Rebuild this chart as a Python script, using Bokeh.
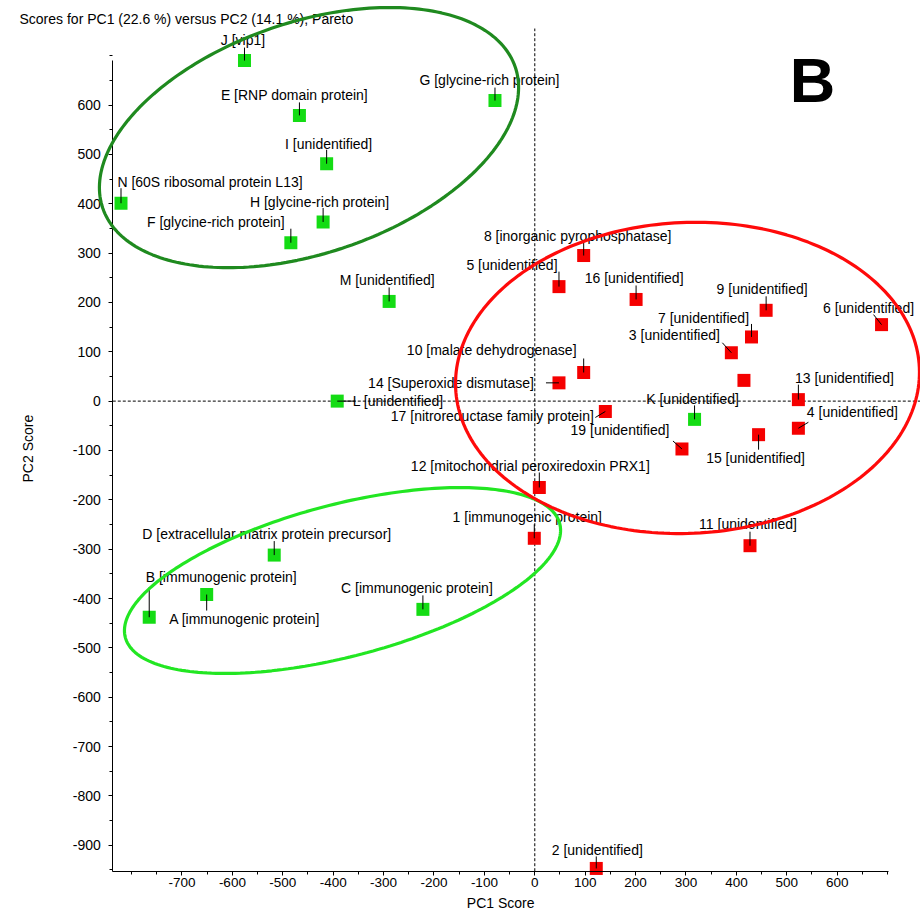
import math
from bokeh.plotting import figure
from bokeh.models import Range1d, FixedTicker, PolyAnnotation, ColumnDataSource
from bokeh.core.properties import value
from bokeh.embed import file_html
from bokeh.resources import INLINE

# ---------------- data ----------------
green_ids = ["J", "E", "G", "I", "N", "H", "F", "M", "L", "K", "D", "A", "B", "C"]
green_names = ["vip1", "RNP domain protein", "glycine-rich protein", "unidentified",
               "60S ribosomal protein L13", "glycine-rich protein", "glycine-rich protein",
               "unidentified", "unidentified", "unidentified",
               "extracellular matrix protein precursor", "immunogenic protein",
               "immunogenic protein", "immunogenic protein"]
green_pc1 = [-576, -467, -79, -413, -821, -420, -484, -289, -392, 317, -517, -651, -765, -222]
green_pc2 = [690, 579, 609, 481, 401, 363, 321, 202, 0, -37, -312, -392, -438, -422]

red_ids = ["8", "5", "16", "9", "6", "7", "3", "18", "10", "14", "13", "17", "4", "15",
           "19", "12", "1", "11", "2"]
red_names = ["inorganic pyrophosphatase", "unidentified", "unidentified", "unidentified",
             "unidentified", "unidentified", "unidentified", None, "malate dehydrogenase",
             "Superoxide dismutase", "unidentified", "nitroreductase family protein",
             "unidentified", "unidentified", "unidentified",
             "mitochondrial peroxiredoxin PRX1", "immunogenic protein", "unidentified",
             "unidentified"]
red_pc1 = [97, 48, 201, 459, 688, 430, 390, 415, 97, 48, 523, 140, 523, 444, 292, 9, -1, 427, 122]
red_pc2 = [295, 232, 206, 184, 155, 130, 98, 42, 58, 37, 3, -21, -55, -68, -97, -175, -278, -293, -947]

x_ticks = [-700, -600, -500, -400, -300, -200, -100, 0, 100, 200, 300, 400, 500, 600]
y_ticks = [-900, -800, -700, -600, -500, -400, -300, -200, -100, 0, 100, 200, 300, 400, 500, 600]

title_text = "Scores for PC1 (22.6 %) versus PC2 (14.1 %), Pareto"
x_title = "PC1 Score"
y_title = "PC2 Score"
panel_letter = "B"

# ---------------- layout / style ----------------
# label centre offset (dx, dy) and leader end (lx, ly), screen px, y down
label_layout = {
    "J": (-1.5, -21, 0, -13), "E": (-5, -20.5, 0, -13), "G": (-5.5, -21, 0, -13),
    "I": (2, -20, 0, -14), "N": (89, -21, 0, -15), "H": (-3.5, -19.5, 0, -14),
    "F": (-75, -21, 0, -14), "M": (-2, -21, 0, -14), "L": (61, 0, 18, 0),
    "K": (-2, -20.5, 0, -14), "D": (-7.5, -21.5, 0, -14), "A": (38, 24, 0, 16),
    "B": (72, -40, 0, -30), "C": (-6, -21, 0, -14),
    "8": (-6, -20, 0, -13), "5": (-47, -22, 0, -15), "16": (-2, -21, 0, -14),
    "9": (-4, -21, 0, -14), "6": (-13, -17, -8, -10), "7": (-48, -19, 0, -13),
    "3": (-57, -18, -9, -10), "18": (0, 0, 0, 1), "10": (-92, -22, 0, -14),
    "14": (-108, 0, -13, 0), "13": (46, -22, 0, -15), "17": (-113, 5, -10, 6),
    "4": (54, -16, 10, -6), "15": (-3, 23, 0, 15), "19": (-62, -18.5, -9, -8),
    "12": (-9, -21, 0, -15), "1": (-7, -21, 0, -14), "11": (-2, -22, 0, -14),
    "2": (1, -18, 0, -12),
}

GREEN = "#14dc14"
RED = "#f50000"
FONT = "Liberation Sans"

W, H = 920, 913
# whole canvas is the plot frame; axes are pinned at fixed data locations
X0, X1 = -1060.1, 765.3
Y0, Y1 = -1038.3, 811.8
AX_X, AX_X_END = -837.3, 702      # extent of PC1 axis line
AX_Y, AX_Y_END = -952.6, 690      # extent of PC2 axis line
DASH_TOP = 755

p = figure(width=W, height=H, x_range=Range1d(X0, X1), y_range=Range1d(Y0, Y1),
           output_backend="svg", toolbar_location=None,
           min_border_left=0, min_border_right=0, min_border_top=0, min_border_bottom=0)
p.outline_line_color = None
p.xgrid.visible = False
p.ygrid.visible = False
p.background_fill_color = "white"
p.border_fill_color = "white"

# axes
p.xaxis.fixed_location = AX_Y
p.yaxis.fixed_location = AX_X
p.xaxis.ticker = FixedTicker(ticks=x_ticks, minor_ticks=list(range(-800, 701, 50)))
p.yaxis.ticker = FixedTicker(ticks=y_ticks, minor_ticks=list(range(-950, 701, 50)))
p.xaxis.major_label_overrides = {t: str(t) for t in x_ticks}
p.yaxis.major_label_overrides = {t: str(t) for t in y_ticks}
p.xaxis.bounds = (AX_X, AX_X_END)
p.yaxis.bounds = (AX_Y, AX_Y_END)
for ax in (p.xaxis[0], p.yaxis[0]):
    ax.axis_line_color = "black"
    ax.axis_line_width = 1
    ax.major_tick_line_color = "black"
    ax.minor_tick_line_color = "black"
    ax.major_tick_in = 0
    ax.major_tick_out = 4
    ax.minor_tick_in = 0
    ax.minor_tick_out = 3
    ax.major_label_text_font = FONT
    ax.major_label_text_color = "black"
p.xaxis.major_label_text_font_size = "13.5px"
p.yaxis.major_label_text_font_size = "14px"
p.xaxis.major_label_standoff = 3
p.yaxis.major_label_standoff = 8

# zero lines
p.segment(x0=[0], y0=[AX_Y], x1=[0], y1=[DASH_TOP], line_color="black", line_width=1,
          line_dash="3 2")
p.segment(x0=[AX_X], y0=[0], x1=[X1], y1=[0], line_color="black", line_width=1,
          line_dash="3 2")

# points
def build(ids, names, xs, ys, color):
    rows = dict(x=[], y=[], text=[], dx=[], dy=[], ang=[], ln=[], la=[], color=[])
    for i, n, x, y in zip(ids, names, xs, ys):
        dx, dy, lx, ly = label_layout[i]
        rows["x"].append(x)
        rows["y"].append(y)
        rows["text"].append("" if n is None else f"{i} [{n}]")
        rows["dx"].append(dx)
        rows["dy"].append(dy)
        rows["ang"].append(math.atan2(-ly, lx))
        rows["ln"].append(math.hypot(lx, ly))
        rows["la"].append(0.0 if n is None else 1.0)
        rows["color"].append(color)
    return ColumnDataSource(rows)

for src in (build(green_ids, green_names, green_pc1, green_pc2, GREEN),
            build(red_ids, red_names, red_pc1, red_pc2, RED)):
    p.scatter("x", "y", source=src, marker="square", size=13,
              fill_color="color", line_color="color", line_width=0)
    p.ray("x", "y", length="ln", angle="ang", length_units="screen", source=src,
          line_color="black", line_width=1, line_alpha="la")
    p.text("x", "y", text="text", x_offset="dx", y_offset="dy", source=src,
           text_font=value(FONT), text_font_size="14px", text_color="black",
           text_align="center", text_baseline="middle")

# group ellipses (centre, width, height in data units, angle in rad)
ellipses = [
    (-448, 534, 865, 468, 0.330, "#1f8a1f"),
    (-381.5, -363.5, 891, 308, 0.256, "#22e622"),
    (303, 47, 921, 630, 0.044, "#ff0a0a"),
]
kx = W / (X1 - X0)
ky = H / (Y1 - Y0)
for cx, cy, ew, eh, th, col in ellipses:
    a, b = ew * kx / 2, eh * ky / 2
    xs, ys = [], []
    for k in range(241):
        t = 2 * math.pi * k / 240
        u, v = a * math.cos(t), b * math.sin(t)
        ru = u * math.cos(th) - v * math.sin(th)
        rv = u * math.sin(th) + v * math.cos(th)
        xs.append(cx + ru / kx)
        ys.append(cy + rv / ky)
    p.add_layout(PolyAnnotation(xs=xs, ys=ys, fill_alpha=0, line_color=col,
                                line_alpha=1.0, line_width=3.2))

# texts: title, axis titles, panel letter
p.text(x=[-1022.4], y=[773.3], text=[title_text], text_font=value(FONT),
       text_font_size="14px", text_color="black", text_align="left", text_baseline="middle")
p.text(x=[(AX_X + AX_X_END) / 2], y=[-1017], text=[x_title], text_font=value(FONT),
       text_font_size="14px", text_color="black", text_align="center", text_baseline="middle")
p.text(x=[-1006.5], y=[(AX_Y + AX_Y_END) / 2 + 35], text=[y_title], angle=[math.pi / 2],
       text_font=value(FONT), text_font_size="14px", text_color="black",
       text_align="center", text_baseline="middle")
p.text(x=[551], y=[650.7], text=[panel_letter], text_font=value(FONT), text_font_size="63px",
       text_font_style="bold", text_color="black", text_align="center",
       text_baseline="middle")

open("out.html", "w").write(file_html(p, INLINE))
